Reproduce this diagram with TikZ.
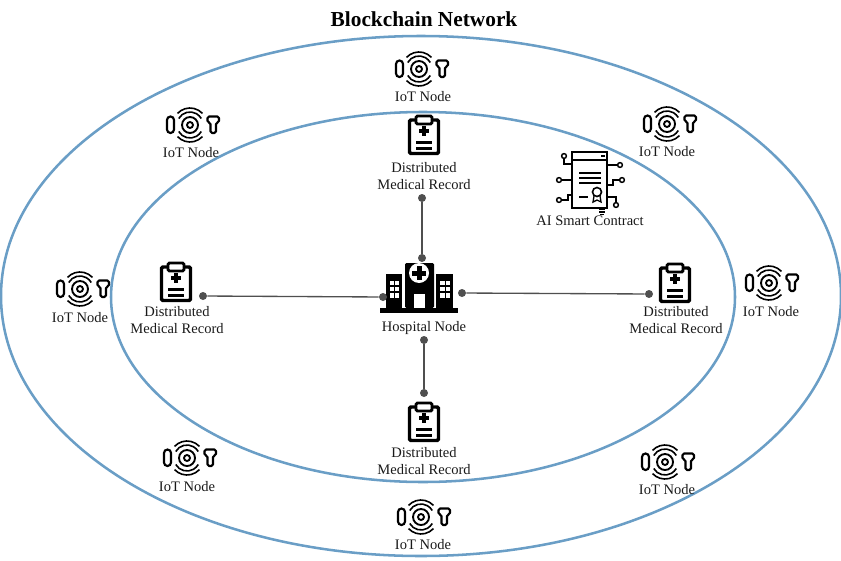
\documentclass[tikz,border=0pt]{standalone}
\usepackage{fontspec}
\setmainfont{Liberation Serif}
\definecolor{ringblue}{HTML}{6A9EC6}
\definecolor{linkgray}{HTML}{4F4F4F}
\tikzset{
	netring/.style={draw=ringblue,line width=1.9pt},
	tag/.style={font=\fontsize{10.9}{12.8}\selectfont,align=center,inner sep=0pt,text=black!90},
	dot/.style={circle,fill=linkgray,inner sep=0pt,minimum size=6pt},
	link/.style={draw=linkgray,line width=1pt},
	iotsym/.pic={
		\draw[line width=1.6pt,rounded corners=2.6pt] (-23,-8.5) rectangle (-16,8);
		\draw[line width=1.4pt] (0,0) circle [radius=8];
		\draw[line width=1.4pt] (0,0) circle [radius=3];
		\draw[line width=1.2pt] (-11.26,-6.5) arc [start angle=-150,end angle=-30,radius=13];
		\draw[line width=1.2pt] (-12.43,-11.6) arc [start angle=-137,end angle=-43,radius=17];
		\draw[line width=1.2pt] (-11.26,6.5) arc [start angle=150,end angle=30,radius=13];
		\draw[line width=1.2pt] (-12.43,11.6) arc [start angle=137,end angle=43,radius=17];
		\draw[line width=1.6pt,line join=round,rounded corners=1.2pt] (17.5,-8.5)--(29,-8.5)--(29,-2.5)--(26,-2.5)--(26,8)--(20.5,8)--(20.5,-2.5)--(17.5,-2.5)--cycle;
	},
	recordsym/.pic={
		\draw[line width=2.6pt,rounded corners=1pt] (-14.5,-15)--(-14.5,18.5)--(14.5,18.5)--(14.5,-15)--cycle;
		\draw[line width=2.2pt,fill=white,rounded corners=1pt] (-8,-19)rectangle(8,-11);
		\fill (-2,-9)rectangle(2,1);
		\fill (-5,-6)rectangle(5,-2);
		\fill (-8,5.5)rectangle(8,8.5);
		\fill (-8,12)rectangle(8,15);
	},
	hospitalsym/.pic={
		\fill (-39,20)rectangle(39,25);
		\fill[rounded corners=1pt] (-14,-25)rectangle(15,20);
		\fill (-33,-14)rectangle(-17,20);
		\fill (17,-14)rectangle(34,20);
		\fill[white] (0,-15) circle [radius=10];
		\fill (-2.5,-22)rectangle(2.5,-8);
		\fill (-7,-17.5)rectangle(7,-12.5);
		\fill[white] (-5,6)rectangle(6,20);
		\fill[white] (-29,-7.3)rectangle(-24.8,-3);
		\fill[white] (-24,-7.3)rectangle(-19.8,-3);
		\fill[white] (-29,-1.3)rectangle(-24.8,2.7);
		\fill[white] (-24,-1.3)rectangle(-19.8,2.7);
		\fill[white] (-29,5.3)rectangle(-24.8,9.7);
		\fill[white] (-24,5.3)rectangle(-19.8,9.7);
		\fill[white] (21,-7.3)rectangle(25.6,-3);
		\fill[white] (26.8,-7.3)rectangle(31.4,-3);
		\fill[white] (21,-1.3)rectangle(25.6,2.7);
		\fill[white] (26.8,-1.3)rectangle(31.4,2.7);
		\fill[white] (21,5.3)rectangle(25.6,9.7);
		\fill[white] (26.8,5.3)rectangle(31.4,9.7);
	},
	contractsym/.pic={
		\draw[line width=1.2pt] (-18,-28)rectangle(17,28);
		\draw[line width=1.2pt] (-18,-20)--(17,-20);
		\fill (11,-25)rectangle(15,-23);
		\draw[line width=1.2pt] (-11,-7)--(11,-7);
		\draw[line width=1.2pt] (-11,-2)--(11,-2);
		\draw[line width=1.2pt] (-11,3)--(11,3);
		\draw[line width=1.2pt] (-11,17)--(-2,17);
		\draw[line width=1.2pt] (7,12) circle [radius=4.5];
		\draw[line width=1pt] (4,16)--(3,22)--(7,20)--(11,22)--(10,16);
		\draw[line width=1.1pt] (-18,-16)--(-26,-16)--(-26,-22);
		\draw[line width=1.1pt] (-26,-24) circle [radius=2.4];
		\draw[line width=1.1pt] (-18,0)--(-29,0);
		\draw[line width=1.1pt] (-31,0) circle [radius=2.4];
		\draw[line width=1.1pt] (-18,15)--(-22,15)--(-22,20)--(-29,20);
		\draw[line width=1.1pt] (-31,20) circle [radius=2.4];
		\draw[line width=1.1pt] (17,-15)--(28,-15);
		\draw[line width=1.1pt] (30,-15) circle [radius=2.4];
		\draw[line width=1.1pt] (17,5)--(23,5)--(23,0)--(30,0);
		\draw[line width=1.1pt] (32,0) circle [radius=2.4];
		\draw[line width=1.1pt] (17,17)--(26,17)--(26,23);
		\draw[line width=1.1pt] (26,25) circle [radius=2.4];
		\draw[line width=1pt] (9,29.5)--(15,29.5);
		\draw[line width=1pt] (9,32)--(15,32);
		\draw[line width=1pt] (10,34.5)--(14,34.5);
	}
}
\begin{document}
\begin{tikzpicture}[x=0.75pt,y=-0.75pt]
	
	\useasboundingbox (0,0) rectangle (841,560);
	
	\draw[netring](421,296) ellipse [x radius=420,y radius=260];
	\draw[netring](423,297) ellipse [x radius=312,y radius=185];
	
	\node[font=\fontsize{16}{18}\bfseries,inner sep=0pt] (title) at (424,19) {Blockchain Network};
	
	\pic at (419,69) {iotsym};
	\pic at (190,125) {iotsym};
	\pic at (667,124) {iotsym};
	\pic at (80,289) {iotsym};
	\pic at (769,283) {iotsym};
	\pic at (187,458) {iotsym};
	\pic at (665,462) {iotsym};
	\pic at (421,517) {iotsym};
	
	\node[tag] (iot1) at (423,97) {IoT Node};
	\node[tag] (iot2) at (191,153) {IoT Node};
	\node[tag] (iot3) at (667,152) {IoT Node};
	\node[tag] (iot4) at (80,318) {IoT Node};
	\node[tag] (iot5) at (771,312) {IoT Node};
	\node[tag] (iot6) at (187,487) {IoT Node};
	\node[tag] (iot7) at (667,490) {IoT Node};
	\node[tag] (iot8) at (423,545) {IoT Node};
	
	\pic at (424,135) {recordsym};
	\pic at (176,282) {recordsym};
	\pic at (675,283) {recordsym};
	\pic at (424,422) {recordsym};
	
	\node[tag] (recordtop) at (424,176) {Distributed\\Medical Record};
	\node[tag] (recordleft) at (177,320) {Distributed\\Medical Record};
	\node[tag] (recordright) at (676,320) {Distributed\\Medical Record};
	\node[tag] (recordbottom) at (424,461) {Distributed\\Medical Record};
	
	\pic at (419,288) {hospitalsym};
	\node[tag] (hospital) at (424,328) {Hospital Node};
	
	\pic at (590,180) {contractsym};
	\node[tag] (contract) at (590,221) {AI Smart Contract};
	
	\node[dot] (h1) at (422,258) {};
	\node[dot] (h2) at (383,297) {};
	\node[dot] (h3) at (462,293) {};
	\node[dot] (h4) at (424,340) {};
	\node[dot] (r1) at (422,198) {};
	\node[dot] (r2) at (203,296) {};
	\node[dot] (r3) at (649,294) {};
	\node[dot] (r4) at (424,393) {};
	
	\draw[link](h1)--(r1);
	\draw[link](h2)--(r2);
	\draw[link](h3)--(r3);
	\draw[link](h4)--(r4);
	
\end{tikzpicture}
\end{document}
